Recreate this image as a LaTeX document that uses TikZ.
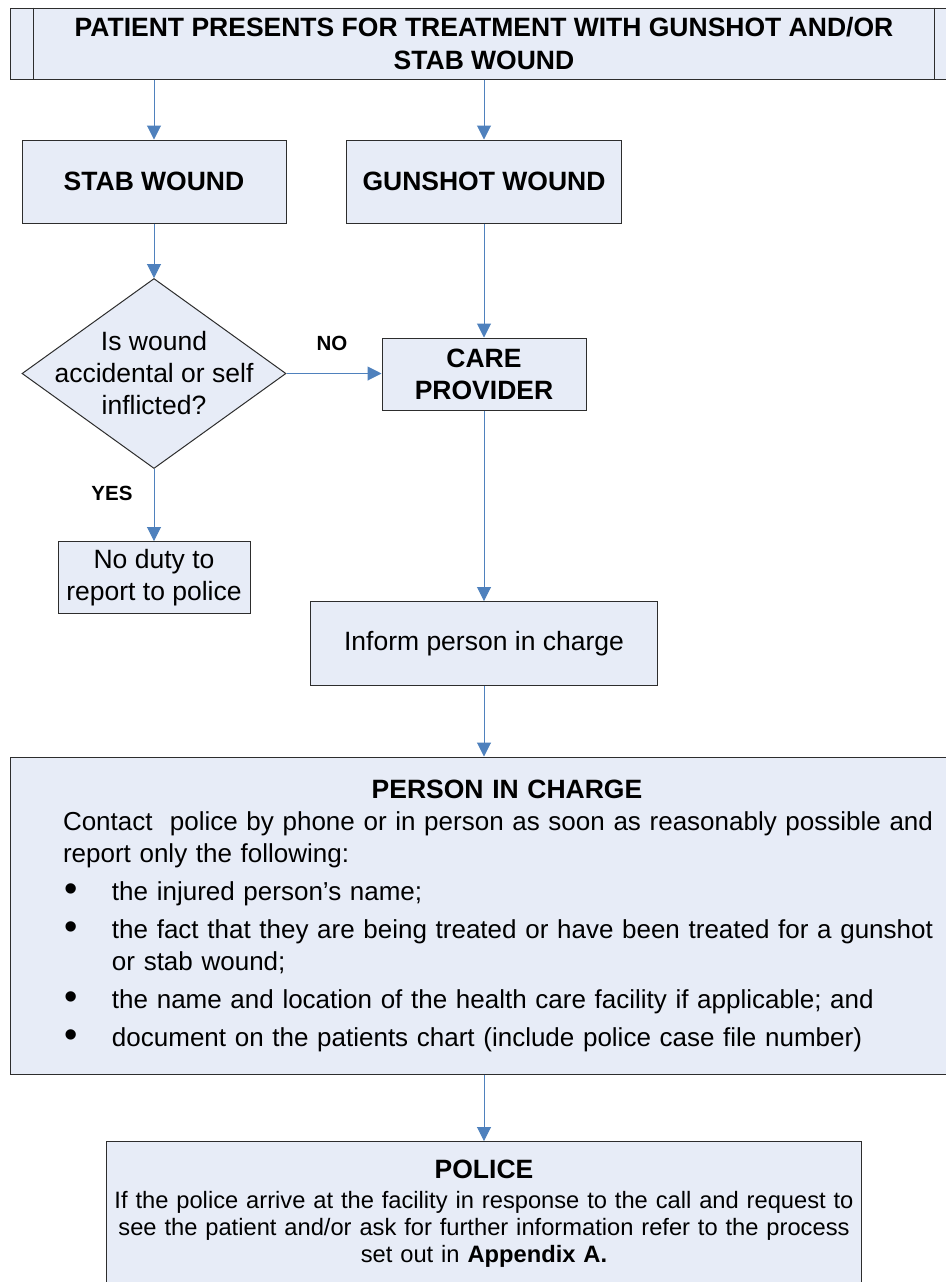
\documentclass[tikz,border=0pt]{standalone}
\usepackage{fontspec}
\setmainfont{Liberation Sans}
\usepackage{tikz}
\usetikzlibrary{arrows.meta,calc,shapes.geometric}
\definecolor{boxfill}{RGB}{231,236,247}
\definecolor{boxline}{RGB}{45,45,45}
\definecolor{flowline}{RGB}{79,129,189}
\newcommand{\dotitem}[1]{\par\vspace{3pt}\hangindent=24.5pt\hangafter=1\noindent\makebox[24.5pt][l]{\hspace{0.5pt}\raisebox{-0.5pt}{\fontsize{19}{19}\selectfont\textbullet}}#1}

\begin{document}
\begin{tikzpicture}[x=0.5pt,y=-0.5pt,
  box/.style={draw=boxline,fill=boxfill,line width=0.5pt,inner sep=0pt,align=center,font=\fontsize{13.25}{16}\selectfont},
  hbox/.style={box,font=\fontsize{13.25}{16}\selectfont\bfseries},
  decide/.style={diamond,draw=boxline,fill=boxfill,line width=0.5pt,inner sep=0pt},
  flow/.style={draw=flowline,line width=0.5pt,-{Triangle[width=7pt,length=7pt]}},
  lbl/.style={font=\fontsize{10.25}{12}\selectfont\bfseries}]
\useasboundingbox (0,0) rectangle (946,1282);
\clip (0,0) rectangle (946,1282);
\fill[white] (0,0) rectangle (946,1282);

\node[hbox,minimum width=474pt,minimum height=35.5pt,font=\fontsize{13.25}{16.5}\selectfont\bfseries] (top) at (484,43.5)
  {PATIENT PRESENTS FOR TREATMENT WITH GUNSHOT AND/OR\\STAB WOUND};
\draw[boxline,line width=0.5pt] ($(top.north west)+(24,0)$) -- ($(top.south west)+(24,0)$);
\draw[boxline,line width=0.5pt] ($(top.north east)+(-24,0)$) -- ($(top.south east)+(-24,0)$);

\node[hbox,minimum width=132pt,minimum height=41.5pt] (stab) at (154,181.5) {STAB WOUND};
\node[hbox,minimum width=137.5pt,minimum height=41.5pt] (gun) at (484,181.5) {GUNSHOT WOUND};
\node[decide,minimum width=132pt,minimum height=95pt,
  label={[align=center,font=\fontsize{13.25}{16}\selectfont]center:{Is wound\\accidental or self\\inflicted?}}] (ask) at (154,373.5) {};
\node[hbox,minimum width=102pt,minimum height=36pt] (care) at (484,374) {CARE\\PROVIDER};
\node[box,minimum width=96pt,minimum height=36pt] (nodut) at (154,577.5) {No duty to\\report to police};
\node[box,minimum width=173.5pt,minimum height=42pt] (inform) at (484,643.5) {Inform person in charge};

\node[box,align=left,text width=444pt,minimum width=497pt,minimum height=158.5pt,font=\fontsize{13}{16}\selectfont] (pic) at (507,915.5) {%
  {\centering\fontsize{13.25}{16}\selectfont\bfseries PERSON IN CHARGE\par}
  Contact~ police by phone or in person as soon as reasonably possible and\newline report only the following:
  \dotitem{the injured person’s name;}
  \dotitem{the fact that they are being treated or have been treated for a gunshot\newline or stab wound;}
  \dotitem{the name and location of the health care facility if applicable; and}
  \dotitem{document on the patients chart (include police case file number)}};

\node[box,anchor=north,text width=377pt,minimum width=377.5pt,minimum height=72pt,font=\fontsize{11.85}{13.5}\selectfont] (police) at (484,1141) {%
  {\fontsize{13.25}{16}\selectfont\bfseries POLICE\par}\vspace{1.5pt}
  If the police arrive at the facility in response to the call and request to\\
  see the patient and/or ask for further information refer to the process\\
  set out in \textbf{Appendix A.}};

\node[lbl] (no) at (332,343) {NO};
\node[lbl] (yes) at (112,493) {YES};

\draw[flow] (top.south -| stab.north) -- (stab.north);
\draw[flow] (top.south -| gun.north) -- (gun.north);
\draw[flow] (stab.south) -- (ask.north);
\draw[flow] (ask.east) -- (ask.east -| care.west);
\draw[flow] (ask.south) -- (nodut.north);
\draw[flow] (gun.south) -- (care.north);
\draw[flow] (care.south) -- (inform.north);
\draw[flow] (inform.south) -- (inform.south |- pic.north);
\draw[flow] (pic.south -| police.north) -- (police.north);
\end{tikzpicture}
\end{document}
